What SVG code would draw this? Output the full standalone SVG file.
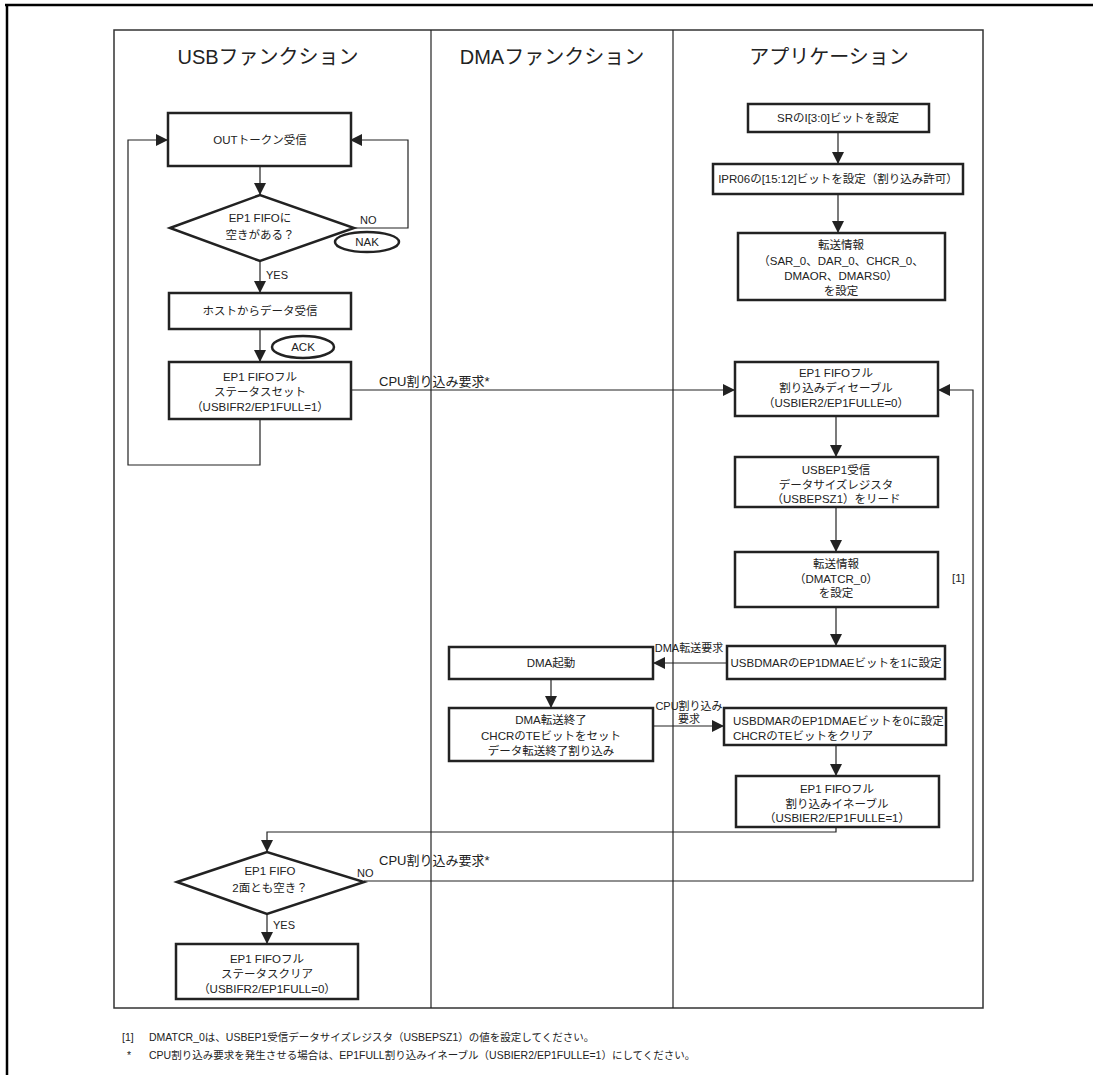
<svg xmlns="http://www.w3.org/2000/svg" width="1093" height="1075" viewBox="0 0 1093 1075">
<style>
text{font-family:"Liberation Sans","Noto Sans CJK JP",sans-serif;fill:#222;}
.h{font-size:20px;text-anchor:middle;}
.t{font-size:11.5px;text-anchor:middle;}
.l{font-size:11.5px;}
.s{font-size:11px;}
.c{font-size:13px;}
.f{font-size:10.5px;}
.box{fill:#fff;stroke:#222;stroke-width:2.5;}
.ln{fill:none;stroke:#222;stroke-width:1.2;}
.ar{fill:none;stroke:#222;stroke-width:1.2;marker-end:url(#a);}
</style>
<defs>
<marker id="a" markerUnits="userSpaceOnUse" markerWidth="12" markerHeight="12" viewBox="0 0 12 12" refX="12" refY="6" orient="auto">
<path d="M0,0 L12,6 L0,12 Z" fill="#222"/>
</marker>
</defs>
<rect width="1093" height="1075" fill="#fff"/>
<g id="outer-frame">
<path d="M5,5 H1093 M7,5 V1075" fill="none" stroke="#000" stroke-width="2.5"/>
</g>
<g id="lanes">
<rect x="114" y="30" width="869" height="978" fill="none" stroke="#333" stroke-width="1.5"/>
<line x1="431" y1="30" x2="431" y2="1008" stroke="#222" stroke-width="1.2"/>
<line x1="673" y1="30" x2="673" y2="1008" stroke="#222" stroke-width="1.2"/>
<text class="h" x="268" y="64">USBファンクション</text>
<text class="h" x="552" y="64">DMAファンクション</text>
<text class="h" x="829" y="64">アプリケーション</text>
</g>
<g id="connectors">
<path class="ar" d="M260,166 V195"/>
<path class="ar" d="M354,228 H408 V140 H350"/>
<path class="ar" d="M260,261 V293"/>
<path class="ar" d="M260,329 V362"/>
<path class="ar" d="M260,419 V465 H128 V140 H168"/>
<path class="ar" d="M351,390 H735"/>
<path class="ar" d="M838,132 V164"/>
<path class="ar" d="M838,194 V233"/>
<path class="ar" d="M836,416 V457"/>
<path class="ar" d="M836,507 V552"/>
<path class="ar" d="M836,607 V646"/>
<path class="ar" d="M727,663 H653"/>
<path class="ar" d="M551,679 V708"/>
<path class="ar" d="M653,726 H724"/>
<path class="ar" d="M836,745 V776"/>
<path class="ar" d="M836,827 V832 H267 V852"/>
<path class="ar" d="M364,881 H973 V390 H938"/>
<path class="ar" d="M267,914 V944"/>
<text class="s" x="360" y="224">NO</text>
<text class="s" x="266" y="279">YES</text>
<text class="c" x="379" y="386">CPU割り込み要求*</text>
<text class="s" x="689" y="652" text-anchor="middle">DMA転送要求</text>
<text class="s" x="689" y="710" text-anchor="middle">CPU割り込み</text>
<text class="s" x="689" y="723" text-anchor="middle">要求</text>
<text class="s" x="357" y="877">NO</text>
<text class="c" x="379" y="865">CPU割り込み要求*</text>
<text class="s" x="273" y="929">YES</text>
<text class="l" x="952" y="582">[1]</text>
</g>
<g id="n-out">
<rect class="box" x="168" y="113" width="183" height="53"/>
<text class="t" x="260" y="144">OUTトークン受信</text>
</g>
<g id="n-d1">
<polygon class="box" points="170,228 260,195 354,228 260,261"/>
<text class="t" x="260" y="222">EP1 FIFOに</text>
<text class="t" x="260" y="239">空きがある？</text>
</g>
<g id="n-nak">
<ellipse class="box" cx="367" cy="242" rx="32" ry="10"/>
<text class="t" x="367" y="246">NAK</text>
</g>
<g id="n-host">
<rect class="box" x="169" y="293" width="182" height="36"/>
<text class="t" x="260" y="315">ホストからデータ受信</text>
</g>
<g id="n-ack">
<ellipse class="box" cx="303" cy="347" rx="31" ry="11"/>
<text class="t" x="303" y="351">ACK</text>
</g>
<g id="n-set">
<rect class="box" x="169" y="362" width="182" height="57"/>
<text class="t" x="260" y="381">EP1 FIFOフル</text>
<text class="t" x="260" y="396">ステータスセット</text>
<text class="t" x="260" y="411">（USBIFR2/EP1FULL=1）</text>
</g>
<g id="n-sr">
<rect class="box" x="748" y="104" width="181" height="28"/>
<text class="t" x="838" y="122">SRのI[3:0]ビットを設定</text>
</g>
<g id="n-ipr">
<rect class="box" x="713" y="164" width="250" height="30"/>
<text class="t" x="838" y="183">IPR06の[15:12]ビットを設定（割り込み許可）</text>
</g>
<g id="n-xfer1">
<rect class="box" x="738" y="233" width="207" height="67"/>
<text class="t" x="841" y="249">転送情報</text>
<text class="t" x="841" y="265">（SAR_0、DAR_0、CHCR_0、</text>
<text class="t" x="841" y="280">DMAOR、DMARS0）</text>
<text class="t" x="841" y="295">を設定</text>
</g>
<g id="n-dis">
<rect class="box" x="735" y="362" width="203" height="54"/>
<text class="t" x="836" y="377">EP1 FIFOフル</text>
<text class="t" x="836" y="392">割り込みディセーブル</text>
<text class="t" x="836" y="407">（USBIER2/EP1FULLE=0）</text>
</g>
<g id="n-size">
<rect class="box" x="735" y="457" width="203" height="50"/>
<text class="t" x="836" y="474">USBEP1受信</text>
<text class="t" x="836" y="489">データサイズレジスタ</text>
<text class="t" x="836" y="503">（USBEPSZ1）をリード</text>
</g>
<g id="n-xfer2">
<rect class="box" x="735" y="552" width="203" height="55"/>
<text class="t" x="836" y="568">転送情報</text>
<text class="t" x="836" y="583">（DMATCR_0）</text>
<text class="t" x="836" y="597">を設定</text>
</g>
<g id="n-dmae1">
<rect class="box" x="727" y="646" width="218" height="33"/>
<text class="t" x="836" y="667">USBDMARのEP1DMAEビットを1に設定</text>
</g>
<g id="n-dmastart">
<rect class="box" x="449" y="647" width="204" height="32"/>
<text class="t" x="551" y="667">DMA起動</text>
</g>
<g id="n-dmaend">
<rect class="box" x="449" y="708" width="204" height="53"/>
<text class="t" x="551" y="724">DMA転送終了</text>
<text class="t" x="551" y="740">CHCRのTEビットをセット</text>
<text class="t" x="551" y="755">データ転送終了割り込み</text>
</g>
<g id="n-dmae0">
<rect class="box" x="724" y="708" width="222" height="37"/>
<text class="l" x="733" y="725">USBDMARのEP1DMAEビットを0に設定</text>
<text class="l" x="733" y="740">CHCRのTEビットをクリア</text>
</g>
<g id="n-en">
<rect class="box" x="736" y="776" width="203" height="51"/>
<text class="t" x="837" y="793">EP1 FIFOフル</text>
<text class="t" x="837" y="808">割り込みイネーブル</text>
<text class="t" x="837" y="822">（USBIER2/EP1FULLE=1）</text>
</g>
<g id="n-d2">
<polygon class="box" points="177,882 267,852 364,882 267,914"/>
<text class="t" x="270" y="875">EP1 FIFO</text>
<text class="t" x="270" y="892">2面とも空き？</text>
</g>
<g id="n-clr">
<rect class="box" x="176" y="944" width="182" height="55"/>
<text class="t" x="267" y="963">EP1 FIFOフル</text>
<text class="t" x="267" y="978">ステータスクリア</text>
<text class="t" x="267" y="993">（USBIFR2/EP1FULL=0）</text>
</g>
<g id="footnotes">
<text class="f" x="122" y="1041">[1]</text>
<text class="f" x="149" y="1041">DMATCR_0は、USBEP1受信データサイズレジスタ（USBEPSZ1）の値を設定してください。</text>
<text class="f" x="127" y="1059">*</text>
<text class="f" x="149" y="1059">CPU割り込み要求を発生させる場合は、EP1FULL割り込みイネーブル（USBIER2/EP1FULLE=1）にしてください。</text>
</g>
</svg>
